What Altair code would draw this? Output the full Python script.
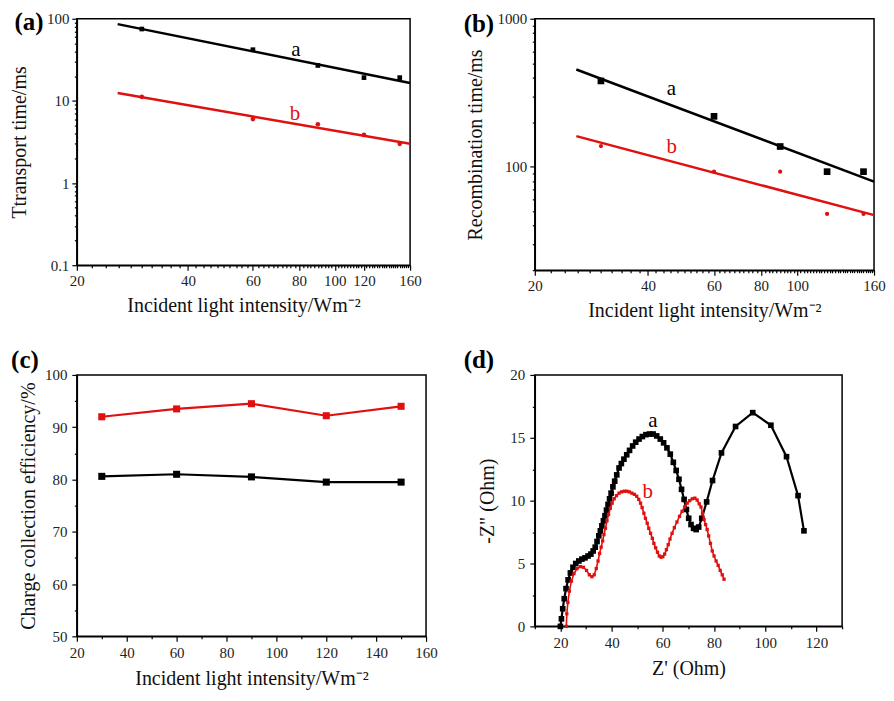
import altair as alt
import pandas as pd

FONT = "Liberation Serif"
RED = "#e01010"

# ---------------- data ----------------
intensity = [30, 60, 90, 120, 150]
# (a) transport time / ms
transport_a = [75, 42, 27, 19.2, 19.2]
transport_b = [11.2, 6.0, 5.2, 3.85, 3.0]
fit_x = [25.8, 160]
transport_fit_a = [86, 16.5]
transport_fit_b = [12.5, 3.0]
# (b) recombination time / ms
recomb_a = [380, 219, 137, 92.6, 92.6]
recomb_b = [138, 92.6, 92.6, 48, 48]
recomb_fit_a = [454, 79.4]
recomb_fit_b = [161, 47.1]
# (c) charge collection efficiency / %
eff_a = [80.6, 81.0, 80.5, 79.5, 79.5]
eff_b = [92.0, 93.5, 94.5, 92.2, 94.0]
# (d) Nyquist plots
zre_a = [20.0, 20.4, 20.9, 21.5, 22.2, 23.0, 23.9, 24.9, 26.0, 27.2, 28.4, 29.6, 30.8,
         31.9, 32.8, 33.6, 34.3, 35.0, 35.6, 36.2, 36.8, 37.4, 38.0, 38.6, 39.2, 39.8,
         40.5, 41.2, 42.0, 42.9, 43.8, 44.8, 45.9, 47.0, 48.2, 49.4, 50.7, 52.0, 53.4,
         54.8, 56.2, 57.6, 59.0, 60.3, 61.6, 62.9, 64.1, 65.2, 66.3, 67.3, 68.3, 69.2,
         70.1, 71.0, 72.0, 73.0, 74.0, 75.2, 77.1, 79.4, 82.9, 88.4, 95.1, 102.2, 108.3,
         112.8, 115.1]
zim_a = [0.0, 0.6, 1.4, 2.2, 3.0, 3.7, 4.25, 4.7, 5.0, 5.2, 5.35, 5.45, 5.6,
         5.75, 6.0, 6.3, 6.75, 7.2, 7.6, 8.0, 8.4, 8.8, 9.25, 9.7, 10.15, 10.6,
         11.1, 11.55, 12.05, 12.6, 12.95, 13.3, 13.65, 14.0, 14.35, 14.65, 14.9, 15.1, 15.25,
         15.3, 15.3, 15.15, 14.9, 14.6, 14.2, 13.7, 13.05, 12.4, 11.7, 10.9, 10.1, 9.3,
         8.6, 8.1, 7.8, 7.7, 7.9, 8.6, 9.9, 11.6, 13.8, 15.9, 17.0, 16.0, 13.5,
         10.4, 7.6]
zre_b = [22.3, 22.5, 22.9, 23.5, 24.3, 25.3, 26.5, 27.8, 29.0, 30.2, 31.3, 32.3, 33.2,
         34.0, 34.7, 35.3, 35.9, 36.5, 37.0, 37.6, 38.2, 38.8, 39.5, 40.2, 41.0, 41.9,
         42.9, 43.9, 44.9, 45.9, 46.9, 47.9, 48.9, 49.8, 50.6, 51.3, 51.9, 52.6, 53.2,
         53.9, 54.5, 55.2, 55.9, 56.5, 57.2, 57.9, 58.6, 59.3, 60.0, 60.7, 61.4, 62.1,
         62.8, 63.6, 64.5, 65.5, 66.5, 67.5, 68.5, 69.5, 70.5, 71.5, 72.5, 73.4, 74.2,
         74.9, 75.5, 76.1, 76.7, 77.3, 77.9, 78.6, 79.3, 80.0, 80.8, 81.6, 82.4, 83.2, 83.9]
zim_b = [0.0, 1.0, 1.9, 2.8, 3.6, 4.2, 4.6, 4.75, 4.7, 4.45, 4.1, 3.95, 4.1,
         4.6, 5.2, 5.8, 6.3, 6.8, 7.3, 7.8, 8.4, 8.9, 9.4, 9.8, 10.15, 10.4,
         10.6, 10.7, 10.75, 10.75, 10.7, 10.6, 10.5, 10.35, 10.1, 9.8, 9.45, 9.0, 8.6,
         8.2, 7.8, 7.4, 7.0, 6.6, 6.25, 5.9, 5.6, 5.5, 5.55, 5.75, 6.1, 6.5,
         6.95, 7.4, 7.85, 8.3, 8.75, 9.15, 9.5, 9.8, 10.0, 10.15, 10.2, 10.05, 9.75,
         9.5, 9.0, 8.5, 8.1, 7.7, 7.2, 6.6, 6.0, 5.6, 5.2, 4.85, 4.45, 4.1, 3.75]

# curve labels
labels_ab = ["a", "b"]
label_a_x, label_a_y = [78.4, 78.0], [41.9, 7.0]
label_b_x, label_b_y = [46.2, 46.3], [333, 136]
label_d_x, label_d_y = [56.1, 54.1], [16.3, 10.7]

# ticks
x_ticks_log = list(range(20, 161, 2))
x_labels_a = [20, 40, 60, 80, 100, 120, 160]
x_labels_b = [20, 40, 60, 80, 100, 160]
y_ticks_a = [0.1, 0.2, 0.3, 0.4, 0.5, 0.6, 0.7, 0.8, 0.9, 1, 2, 3, 4, 5, 6, 7, 8, 9,
             10, 20, 30, 40, 50, 60, 70, 80, 90, 100]
y_labels_a = [0.1, 1, 10, 100]
y_ticks_b = [20, 30, 40, 50, 60, 70, 80, 90, 100, 200, 300, 400, 500, 600, 700, 800, 900, 1000]
y_labels_b = [100, 1000]
x_ticks_c = [20, 30, 40, 50, 60, 70, 80, 90, 100, 110, 120, 130, 140, 150, 160]
x_labels_c = [20, 40, 60, 80, 100, 120, 140, 160]
y_ticks_c = [50, 55, 60, 65, 70, 75, 80, 85, 90, 95, 100]
y_labels_c = [50, 60, 70, 80, 90, 100]
x_ticks_d = [10, 20, 30, 40, 50, 60, 70, 80, 90, 100, 110, 120, 130]
x_labels_d = [20, 40, 60, 80, 100, 120]
y_ticks_d = [0, 2.5, 5, 7.5, 10, 12.5, 15, 17.5, 20]
y_labels_d = [0, 5, 10, 15, 20]

X_TITLE = "Incident light intensity/Wm\u207b\u00b2"


def in_list(vals):
    return "indexof([" + ",".join(str(v) for v in vals) + "], datum.value) >= 0"


def axis(ticks, labels, title, pad, tpad):
    return alt.Axis(
        values=ticks,
        labelExpr=in_list(labels) + " ? ('' + datum.value) : ''",
        tickSize={"condition": {"test": in_list(labels), "value": 5}, "value": 2.5},
        labelFlush=False,
        labelOverlap=False,
        labelPadding=pad,
        title=title,
        titlePadding=tpad,
    )


color_scale = alt.Scale(domain=["a", "b"], range=["black", RED])


def letter(txt, dx, dy):
    return alt.Chart(pd.DataFrame({"t": [txt]})).mark_text(
        font=FONT, fontSize=25, fontWeight="bold", align="center", baseline="middle",
        color="black"
    ).encode(x=alt.value(dx), y=alt.value(dy), text="t:N")


def long_df(xs, a, b):
    return pd.DataFrame({"x": list(xs) * 2, "v": list(a) + list(b),
                         "s": ["a"] * len(a) + ["b"] * len(b)})


# ---------------- panel (a) ----------------
xs_a = alt.Scale(type="log", domain=[20, 160], nice=False)
ys_a = alt.Scale(type="log", domain=[0.1, 100], nice=False)
ax_x_a = axis(x_ticks_log, x_labels_a, X_TITLE, 3, 7)
ax_y_a = axis(y_ticks_a, y_labels_a, "Ttransport time/ms", 3, 17)


def enc_a():
    return dict(x=alt.X("x:Q", scale=xs_a, axis=ax_x_a),
                y=alt.Y("v:Q", scale=ys_a, axis=ax_y_a))


pa_fit = alt.Chart(long_df(fit_x, transport_fit_a, transport_fit_b)).mark_line(strokeWidth=2.5).encode(
    color=alt.Color("s:N", scale=color_scale, legend=None), **enc_a())
pa_pts = alt.Chart(long_df(intensity, transport_a, transport_b)).mark_point(filled=True, opacity=1).encode(
    color=alt.Color("s:N", scale=color_scale, legend=None),
    shape=alt.Shape("s:N", scale=alt.Scale(domain=["a", "b"], range=["square", "circle"]), legend=None),
    size=alt.value(22), **enc_a())
pa_lab = alt.Chart(pd.DataFrame({"x": label_a_x, "v": label_a_y, "s": labels_ab})).mark_text(
    font=FONT, fontSize=21, baseline="middle").encode(
    text="s:N", color=alt.Color("s:N", scale=color_scale, legend=None), **enc_a())
panel_a = alt.layer(pa_fit, pa_pts, pa_lab, letter("(a)", -48, 3)).properties(width=334, height=247)

# ---------------- panel (b) ----------------
xs_b = alt.Scale(type="log", domain=[20, 160], nice=False)
ys_b = alt.Scale(type="log", domain=[20, 1000], nice=False)
ax_x_b = axis(x_ticks_log, x_labels_b, X_TITLE, 3, 7)
ax_y_b = axis(y_ticks_b, y_labels_b, "Recombination time/ms", 3, 11)


def enc_b():
    return dict(x=alt.X("x:Q", scale=xs_b, axis=ax_x_b),
                y=alt.Y("v:Q", scale=ys_b, axis=ax_y_b))


pb_fit = alt.Chart(long_df(fit_x, recomb_fit_a, recomb_fit_b)).mark_line(strokeWidth=2.5).encode(
    color=alt.Color("s:N", scale=color_scale, legend=None), **enc_b())
pb_pts = alt.Chart(long_df(intensity, recomb_a, recomb_b)).mark_point(filled=True, opacity=1).encode(
    color=alt.Color("s:N", scale=color_scale, legend=None),
    shape=alt.Shape("s:N", scale=alt.Scale(domain=["a", "b"], range=["square", "circle"]), legend=None),
    size=alt.Size("s:N", scale=alt.Scale(domain=["a", "b"], range=[45, 18]), legend=None), **enc_b())
pb_lab = alt.Chart(pd.DataFrame({"x": label_b_x, "v": label_b_y, "s": labels_ab})).mark_text(
    font=FONT, fontSize=21, baseline="middle").encode(
    text="s:N", color=alt.Color("s:N", scale=color_scale, legend=None), **enc_b())
panel_b = alt.layer(pb_fit, pb_pts, pb_lab, letter("(b)", -56, 5)).properties(width=340, height=252)

# ---------------- panel (c) ----------------
xs_c = alt.Scale(domain=[20, 160], nice=False, zero=False)
ys_c = alt.Scale(domain=[50, 100], nice=False, zero=False)
ax_x_c = axis(x_ticks_c, x_labels_c, X_TITLE, 4, 8)
ax_y_c = axis(y_ticks_c, y_labels_c, "Charge collection efficiency/%", 5, 6)


def enc_c():
    return dict(x=alt.X("x:Q", scale=xs_c, axis=ax_x_c),
                y=alt.Y("v:Q", scale=ys_c, axis=ax_y_c))


pc_line = alt.Chart(long_df(intensity, eff_a, eff_b)).mark_line(
    strokeWidth=2.2, point=alt.OverlayMarkDef(shape="square", size=50, filled=True, opacity=1)).encode(
    color=alt.Color("s:N", scale=color_scale, legend=None), **enc_c())
panel_c = alt.layer(pc_line, letter("(c)", -52, -15)).properties(width=350, height=262)

# ---------------- panel (d) ----------------
xs_d = alt.Scale(domain=[10, 130], nice=False, zero=False)
ys_d = alt.Scale(domain=[0, 20], nice=False, zero=False)
ax_x_d = axis(x_ticks_d, x_labels_d, "Z' (Ohm)", 4, 8)
ax_y_d = axis(y_ticks_d, y_labels_d, '-Z" (Ohm)', 5, 12)


def enc_d():
    return dict(x=alt.X("x:Q", scale=xs_d, axis=ax_x_d),
                y=alt.Y("v:Q", scale=ys_d, axis=ax_y_d))


df_da = pd.DataFrame({"x": zre_a, "v": zim_a, "o": list(range(len(zre_a)))})
df_db = pd.DataFrame({"x": zre_b, "v": zim_b, "o": list(range(len(zre_b)))})
pd_a = alt.Chart(df_da).mark_line(
    color="black", strokeWidth=2.2,
    point=alt.OverlayMarkDef(shape="square", size=32, filled=True, color="black", opacity=1)).encode(
    order="o:Q", **enc_d())
pd_b = alt.Chart(df_db).mark_line(
    color=RED, strokeWidth=1.6,
    point=alt.OverlayMarkDef(shape="square", size=11, filled=True, color=RED, opacity=1)).encode(
    order="o:Q", **enc_d())
pd_lab = alt.Chart(pd.DataFrame({"x": label_d_x, "v": label_d_y, "s": labels_ab})).mark_text(
    font=FONT, fontSize=21, baseline="middle").encode(
    text="s:N", color=alt.Color("s:N", scale=color_scale, legend=None), **enc_d())
panel_d = alt.layer(pd_a, pd_b, pd_lab, letter("(d)", -56, -15)).properties(width=308, height=252)

chart = alt.concat(panel_a, panel_b, panel_c, panel_d, columns=2,
                   spacing={"row": 26, "column": 24}).properties(
    padding={"left": 0, "top": 0, "right": 0, "bottom": 0}
).configure_view(stroke="black", strokeWidth=1.5).configure_axis(
    labelFont=FONT, labelFontSize=15, labelColor="#222",
    titleFont=FONT, titleFontSize=20, titleFontWeight="normal", titleColor="#111",
    domainColor="black", domainWidth=1.5, tickColor="black", tickWidth=1.2, grid=False
)

chart.save("out.html", embed_options={"renderer": "svg", "actions": False})
